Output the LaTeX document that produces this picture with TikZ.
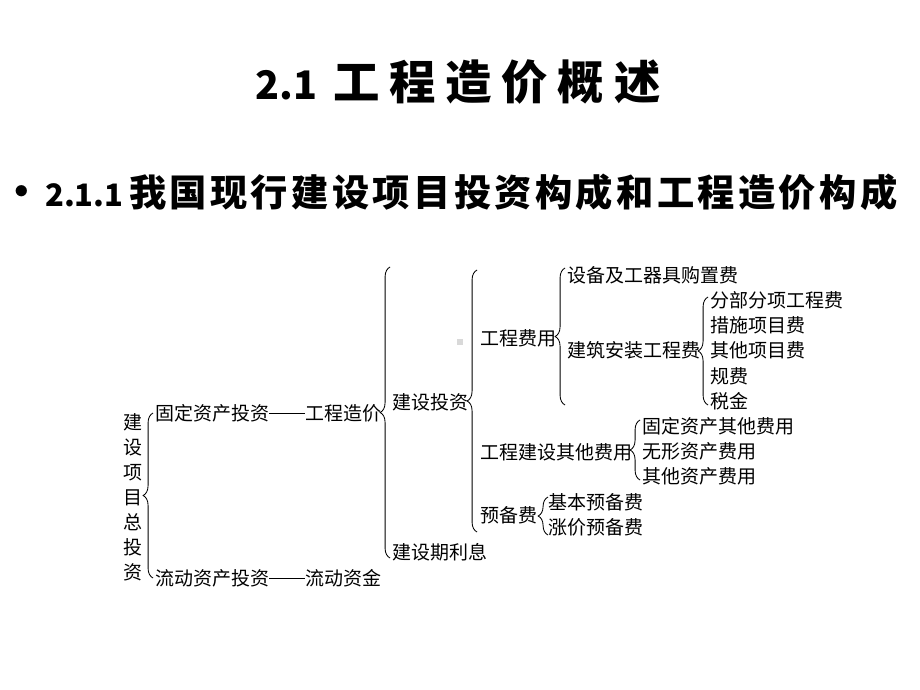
\documentclass[tikz,border=0pt]{standalone}
\usepackage{fontspec}
\newfontfamily\cjk{Noto Sans CJK SC}
\newfontfamily\cjkhead{Noto Sans CJK SC}
\usetikzlibrary{positioning, decorations.pathreplacing}

\begin{document}
\begin{tikzpicture}[x=0.025cm, y=-0.025cm,
    item/.style={anchor=west, inner sep=0pt, font=\cjk\fontsize{13.5}{16}\selectfont},
    brc/.style={decorate, decoration={brace, amplitude=7pt}, line width=0.6pt}]

\useasboundingbox (0,0) rectangle (920,690);

% headings
\node[anchor=west, inner sep=0pt, font=\cjkhead\bfseries\fontsize{33}{40}\selectfont] (title) at (255,82)
  {{\fontsize{28}{34}\selectfont 2.1}\hspace{0.35em}\addfontfeature{LetterSpace=21}工程造价概述};
\node[font=\fontsize{22}{24}\selectfont] (bullet) at (22,192) {$\bullet$};
\node[anchor=west, inner sep=0pt, font=\cjkhead\bfseries\fontsize{26.5}{30}\selectfont] (subtitle) at (45,192)
  {{\fontsize{22}{26}\selectfont 2.1.1}\hspace{0.15em}\addfontfeature{LetterSpace=9}我国现行建设项目投资构成和工程造价构成};

% root, vertical
\node[align=center, inner sep=0pt, font=\cjk\fontsize{13.5}{17.8}\selectfont] (ztz) at (133,497) {建\\设\\项\\目\\总\\投\\资};

% fixed / current assets
\node[item] (gdzc) at (155,413) {固定资产投资};
\node[item] (gczj) at (305,413) {工程造价};
\node[item] (ldzc) at (155,578) {流动资产投资};
\node[item] (ldzj) at (305,578) {流动资金};
\draw[line width=0.5pt] (gdzc.east) -- (gczj.west);
\draw[line width=0.5pt] (ldzc.east) -- (ldzj.west);

% cost of construction
\node[item] (jstz) at (392,402) {建设投资};
\node[item] (jsqlx) at (392,552) {建设期利息};

\node[item] (gcfy) at (480,338) {工程费用};
\node[item] (gcqt) at (480,452) {工程建设其他费用};
\node[item] (ybf) at (480,515) {预备费};

\node[item] (sbgq) at (567,275) {设备及工器具购置费};
\node[item] (jzaz) at (567,350) {建筑安装工程费};

\node[item] (fbfx) at (710,300) {分部分项工程费};
\node[item] (csxm) at (710,325) {措施项目费};
\node[item] (qtxm) at (710,350) {其他项目费};
\node[item] (gf) at (710,376) {规费};
\node[item] (sj) at (710,401) {税金};

\node[item] (gdqt) at (642,426) {固定资产其他费用};
\node[item] (wxzc) at (642,451) {无形资产费用};
\node[item] (qtzc) at (642,476) {其他资产费用};

\node[item] (jbyb) at (548,502) {基本预备费};
\node[item] (zjyb) at (548,527) {涨价预备费};

% braces, drawn bottom to top
\draw[brc] (153,578) -- (153,413);
\draw[brc] (390,558) -- (390,267);
\draw[brc] (477,532) -- (477,270);
\draw[brc] (565,405) -- (565,268);
\draw[brc] (708,405) -- (708,297);
\draw[brc] (640,480) -- (640,420);
\draw[brc] (548,535) -- (548,497);

% small grey mark
\fill[gray!30] (457,339) rectangle (463,345);

\end{tikzpicture}
\end{document}
